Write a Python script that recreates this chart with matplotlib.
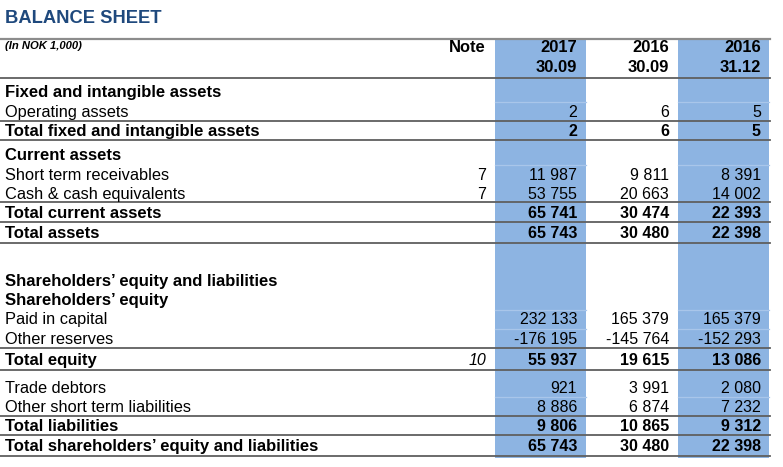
import matplotlib
matplotlib.use("Agg")
import matplotlib.pyplot as plt

title = "BALANCE SHEET"
unit_note = "(In NOK 1,000)"
col_headers = [("2017", "30.09"), ("2016", "30.09"), ("2016", "31.12")]

labels = [
    "Fixed and intangible assets",
    "Operating assets",
    "Total fixed and intangible assets",
    "Current assets",
    "Short term receivables",
    "Cash & cash equivalents",
    "Total current assets",
    "Total assets",
    "Shareholders\u2019 equity and liabilities",
    "Shareholders\u2019 equity",
    "Paid in capital",
    "Other reserves",
    "Total equity",
    "Trade debtors",
    "Other short term liabilities",
    "Total liabilities",
    "Total shareholders\u2019 equity and liabilities",
]
notes = ["", "", "", "", "7", "7", "", "", "", "", "", "", "10", "", "", "", ""]
values_2017_0930 = [None, 2, 2, None, 11987, 53755, 65741, 65743, None, None, 232133, -176195, 55937, 921, 8886, 9806, 65743]
values_2016_0930 = [None, 6, 6, None, 9811, 20663, 30474, 30480, None, None, 165379, -145764, 19615, 3991, 6874, 10865, 30480]
values_2016_1231 = [None, 5, 5, None, 8391, 14002, 22393, 22398, None, None, 165379, -152293, 13086, 2080, 7232, 9312, 22398]
bold_rows = [True, False, True, True, False, False, True, True, True, True, False, False, True, False, False, True, True]

# layout (pixels)
row_y = [92.5, 112.5, 131.5, 155.5, 175.5, 194.5, 213.5, 233.5, 281.5, 300.5, 319.5, 339.5, 360.5, 388.5, 407.5, 426.5, 446.5]
rule_y = [78, 121, 140, 202, 222, 243, 348, 370, 416, 435, 456]
light_y = [102, 165, 310, 329, 397]
col_spans = [(495, 586), (586, 678), (678, 769)]
col_fill = ['#8DB4E2', 'white', '#8DB4E2']
col_right = [577, 669, 761]
note_right = 486

W, H = 783, 467
fig = plt.figure(figsize=(W / 100, H / 100), dpi=100)
ax = fig.add_axes([0, 0, 1, 1])
ax.set_xlim(0, W)
ax.set_ylim(H, 0)
ax.axis('off')

plt.rcParams['font.family'] = ['Liberation Sans', 'DejaVu Sans']
FS_REG = 11.8
FS_BOLD = 12.0
FS_NUM = 11.5

# column backgrounds
for (x0, x1), c in zip(col_spans, col_fill):
    if c != 'white':
        ax.fill_between([x0, x1], 38, 458, color=c, lw=0, zorder=0)
        for ly in light_y:
            ax.plot([x0, x1], [ly, ly], color='#A9C6EA', lw=0.9, zorder=1)

# rules
ax.plot([0, 770], [38.5, 38.5], color='#8C8C8C', lw=1.6, zorder=2)
for ry in rule_y:
    ax.plot([0, 770], [ry, ry], color='#5F5F5F', lw=1.3, zorder=2)

ax.text(5, 18.5, title, fontsize=13.2, fontweight='bold', color='#1F497D', va='center', ha='left')
ax.text(5, 46, unit_note, fontsize=8.1, fontweight='bold', style='italic', va='center', ha='left')

ax.text(note_right, 48, "Note", fontsize=FS_BOLD - 0.1, fontweight='bold', va='center', ha='right')
for (y1, y2), xr in zip(col_headers, col_right):
    ax.text(xr, 48, y1, fontsize=FS_BOLD - 0.1, fontweight='bold', va='center', ha='right')
    ax.text(xr, 67, y2, fontsize=FS_BOLD - 0.1, fontweight='bold', va='center', ha='right')


def fmt(v):
    if v is None:
        return ""
    s = f"{abs(v):,}".replace(",", " ")
    return ("-" if v < 0 else "") + s


series = [values_2017_0930, values_2016_0930, values_2016_1231]
for i, lab in enumerate(labels):
    y = row_y[i]
    b = bold_rows[i]
    fw = 'bold' if b else 'normal'
    ax.text(5, y, lab, fontsize=FS_BOLD if b else FS_REG, fontweight=fw, va='center', ha='left')
    if notes[i]:
        st = 'italic' if notes[i] == '10' else 'normal'
        ax.text(note_right, y, notes[i], fontsize=FS_NUM, style=st, va='center', ha='right')
    for vals, xr in zip(series, col_right):
        if vals[i] is not None:
            ax.text(xr, y, fmt(vals[i]), fontsize=FS_NUM, fontweight=fw, va='center', ha='right')

fig.savefig("out.png", dpi=100)
